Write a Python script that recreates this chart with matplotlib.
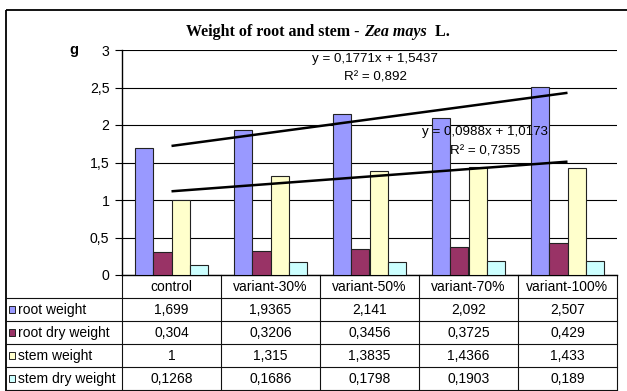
import matplotlib
matplotlib.use('Agg')
import matplotlib.pyplot as plt
from matplotlib.patches import Rectangle
from matplotlib.lines import Line2D
import numpy as np

# ---- data ----
categories = ['control', 'variant-30%', 'variant-50%', 'variant-70%', 'variant-100%']
series_names = ['root weight', 'root dry weight', 'stem weight', 'stem dry weight']
root_weight = [1.699, 1.9365, 2.141, 2.092, 2.507]
root_dry_weight = [0.304, 0.3206, 0.3456, 0.3725, 0.429]
stem_weight = [1, 1.315, 1.3835, 1.4366, 1.433]
stem_dry_weight = [0.1268, 0.1686, 0.1798, 0.1903, 0.189]
# linear trendlines: slope, intercept, R^2 (x = 1..5)
root_trend = (0.1771, 1.5437, 0.892)
stem_trend = (0.0988, 1.0173, 0.7355)
y_ticks = [0, 0.5, 1, 1.5, 2, 2.5, 3]

series = [root_weight, root_dry_weight, stem_weight, stem_dry_weight]
colors = ['#9999FF', '#993366', '#FFFFCC', '#CCFFFF']
edge = '#222222'

plt.rcParams['font.family'] = ['Liberation Sans', 'DejaVu Sans']


def comma(v):
    return ('%g' % v).replace('.', ',')


W, H = 627, 391
fig = plt.figure(figsize=(W / 100, H / 100), dpi=100)

# plot area in pixel geometry
px_left, px_right, px_top, px_bottom = 122, 617, 50, 275
ax = fig.add_axes([px_left / W, (H - px_bottom) / H,
                   (px_right - px_left) / W, (px_bottom - px_top) / H])
ax.set_xlim(-0.5, len(categories) - 0.5)
ax.set_ylim(0, 3)

x = np.arange(len(categories))
bw = 0.182
for j, (vals, c) in enumerate(zip(series, colors)):
    ax.bar(x + (j - 1.5) * bw, vals, bw, color=c, edgecolor=edge,
           linewidth=0.8, zorder=3)

# trendlines
for slope, icpt, _ in (root_trend, stem_trend):
    ax.plot(x, slope * (x + 1) + icpt, color='black', lw=1.8, zorder=4,
            solid_capstyle='butt')

lab_fs = 9.6
ax.text(2.056, 2.88, 'y = %sx + %s' % (comma(root_trend[0]), comma(root_trend[1])),
        ha='center', va='center', fontsize=lab_fs, zorder=5)
ax.text(2.056, 2.627, 'R² = %s' % comma(root_trend[2]),
        ha='center', va='center', fontsize=lab_fs, zorder=5)
ax.text(3.167, 1.907, 'y = %sx + %s' % (comma(stem_trend[0]), comma(stem_trend[1])),
        ha='center', va='center', fontsize=lab_fs, zorder=5)
ax.text(3.167, 1.653, 'R² = %s' % comma(stem_trend[2]),
        ha='center', va='center', fontsize=lab_fs, zorder=5)

ax.set_yticks(y_ticks)
ax.set_yticklabels([comma(t) for t in y_ticks])
ax.yaxis.grid(True, color='black', lw=0.8)
ax.set_axisbelow(True)
ax.set_xticks([])
ax.tick_params(axis='y', length=5, width=0.8, pad=4, labelsize=10.2, colors='black')
for s in ('top', 'right'):
    ax.spines[s].set_visible(False)
for s in ('left', 'bottom'):
    ax.spines[s].set_color('black')
    ax.spines[s].set_linewidth(1.0)
ax.patch.set_alpha(0)

# overlay in pixel coordinates for the frame, title and data table
ov = fig.add_axes([0, 0, 1, 1], zorder=-1)
ov.set_xlim(0, W)
ov.set_ylim(H, 0)
ov.axis('off')

ov.add_patch(Rectangle((6, 10), 800, 600, fill=False, edgecolor='black', lw=1.3))

# data table
col_edges = [px_left + (px_right - px_left) / len(categories) * i for i in range(len(categories) + 1)]
row_edges = [275, 297.7, 320.7, 343.7, 366.7, 389.7]
tcol = '#111111'
for y in row_edges[1:]:
    ov.add_line(Line2D([6, px_right], [y, y], color=tcol, lw=0.8))
for xe in col_edges:
    ov.add_line(Line2D([xe, xe], [row_edges[0], row_edges[-1]], color=tcol, lw=0.8))

tab_fs = 10
yc = [(row_edges[i] + row_edges[i + 1]) / 2 for i in range(len(row_edges) - 1)]
xc = [(col_edges[i] + col_edges[i + 1]) / 2 for i in range(len(categories))]
for i, cat in enumerate(categories):
    ov.text(xc[i], yc[0] + 0.5, cat, ha='center', va='center', fontsize=tab_fs)
for r, (name, vals, c) in enumerate(zip(series_names, series, colors)):
    y = yc[r + 1] + 0.5
    ov.add_patch(Rectangle((8.5, y - 3.4), 6.8, 6.8, facecolor=c, edgecolor=edge, lw=0.7))
    ov.text(17.5, y, name, ha='left', va='center', fontsize=tab_fs)
    for i, v in enumerate(vals):
        ov.text(xc[i], y, comma(v), ha='center', va='center', fontsize=tab_fs)

# axis unit label
ov.text(74, 50, 'g', ha='center', va='center', fontsize=10.5, fontweight='bold')

# title built from pieces (bold, bold italic species name)
pieces = [('Weight of root and stem - ', 'normal'), ('Zea mays', 'italic'), ('  L.', 'normal')]
fig.canvas.draw()
renderer = fig.canvas.get_renderer()
arts = []
for txt, style in pieces:
    arts.append(ov.text(0, 32, txt, ha='left', va='center', fontsize=11.5,
                        fontweight='bold', style=style, family='Liberation Serif'))
widths = [a.get_window_extent(renderer).width for a in arts]
x0 = 318 - sum(widths) / 2
for a, w in zip(arts, widths):
    a.set_x(x0)
    x0 += w

fig.savefig('out.png', dpi=100)
